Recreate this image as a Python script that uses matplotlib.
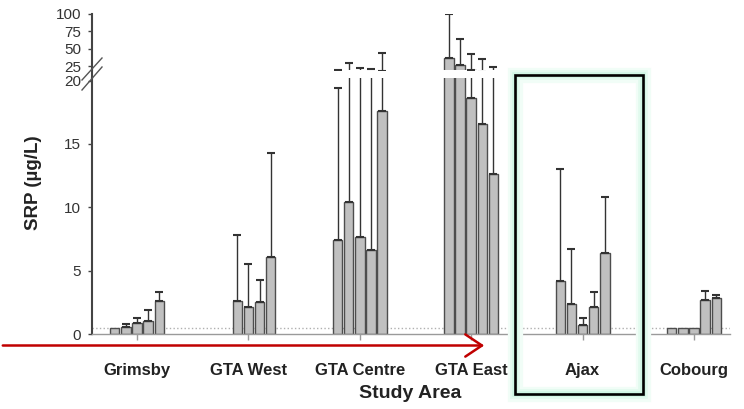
import numpy as np
import matplotlib
matplotlib.use('Agg')
import matplotlib.pyplot as plt
from matplotlib.patches import Rectangle, FancyArrowPatch
from matplotlib.lines import Line2D

plt.rcParams['font.family'] = ['Liberation Sans', 'DejaVu Sans']

# sites and the 5 sampling bars per site (mean SRP and upper error)
sites = ['Grimsby', 'GTA West', 'GTA Centre', 'GTA East', 'Ajax', 'Cobourg']

grimsby_mean = [0.50, 0.58, 0.85, 1.03, 2.63]
grimsby_err = [0, 0.21, 0.44, 0.87, 0.69]
gta_west_mean = [np.nan, 2.63, 2.16, 2.50, 6.11]
gta_west_err = [np.nan, 5.20, 3.34, 1.77, 8.17]
gta_centre_mean = [7.43, 10.38, 7.69, 6.64, 17.6]
gta_centre_err = [11.97, 18.5, 14.9, 14.1, 26.6]
gta_east_mean = [36.1, 26.5, 18.6, 16.6, 12.65]
gta_east_err = [63.9, 37.0, 23.7, 18.5, 11.35]
ajax_mean = [4.21, 2.34, 0.71, 2.11, 6.38]
ajax_err = [8.83, 4.35, 0.53, 1.24, 4.42]
cobourg_mean = [0.50, 0.50, 0.50, 2.69, 2.87]
cobourg_err = [0, 0, 0, 0.74, 0.21]

means = [grimsby_mean, gta_west_mean, gta_centre_mean, gta_east_mean, ajax_mean, cobourg_mean]
errs = [grimsby_err, gta_west_err, gta_centre_err, gta_east_err, ajax_err, cobourg_err]

detection_limit = 0.5

W, H = 744, 409
fig = plt.figure(figsize=(W / 100, H / 100), dpi=100)

ax = fig.add_axes([92 / W, 1 - 334 / H, 638 / W, 256 / H])
ax_top = fig.add_axes([92 / W, 1 - 69.5 / H, 638 / W, 55.85 / H])

offsets = (np.arange(5) - 2) * 0.1
for a in (ax, ax_top):
    for i, (m, e) in enumerate(zip(means, errs)):
        m = np.array(m, dtype=float)
        e = np.array(e, dtype=float)
        xs = i + offsets
        ok = ~np.isnan(m)
        a.bar(xs[ok], m[ok], width=0.085, color='#c0c0c0', edgecolor='#4d4d4d',
              linewidth=1, zorder=2)
        has_err = ok & (e > 0)
        a.errorbar(xs[has_err], m[has_err], yerr=[np.zeros(has_err.sum()), e[has_err]],
                   fmt='none', ecolor='#333333', elinewidth=1, capsize=3.2,
                   capthick=1.5, zorder=3)
    a.set_xlim(-0.404, 5.323)
    for s in ['top', 'right']:
        a.spines[s].set_visible(False)
    a.spines['left'].set_color('#444444')
    a.spines['left'].set_linewidth(1.5)
    a.tick_params(axis='y', direction='out', length=3, width=1, color='#444444',
                  labelsize=11, labelcolor='#333333', pad=5)

ax.set_ylim(0, 20.2)
ax.set_yticks([0, 5, 10, 15, 20])
ax.axhline(detection_limit, color='#b0b0b0', ls=':', lw=1, zorder=1)
ax.spines['bottom'].set_color('#9a9a9a')
ax.spines['bottom'].set_linewidth(1)
ax.set_xticks(range(len(sites)))
ax.set_xticklabels(sites, fontweight='bold', fontsize=12, color='#222222')
ax.tick_params(axis='x', direction='out', length=4, width=1, color='#9a9a9a', pad=17)

ax_top.set_ylim(20, 100.5)
ax_top.set_yticks([25, 50, 75, 100])
ax_top.spines['bottom'].set_visible(False)
ax_top.set_xticks([])

# continuous spine across the break and the break marks
fig.add_artist(Line2D([92 / W, 92 / W], [1 - 69.5 / H, 1 - 78 / H], color='#444444', lw=1.5))
for y0, y1 in [(80, 58), (90, 67)]:
    fig.add_artist(Line2D([82 / W, 102 / W], [1 - y0 / H, 1 - y1 / H], color='#555555', lw=1))

fig.text(33 / W, 1 - 183 / H, 'SRP (µg/L)', rotation=90, ha='center', va='center',
         fontsize=13.5, fontweight='bold', color='#222222')
fig.text(410 / W, 1 - 394 / H, 'Study Area', ha='center', va='center',
         fontsize=14, fontweight='bold', color='#222222')

# highlight box around Ajax with a soft mint glow
x0, y0, x1, y1 = 515 / W, 1 - 394 / H, 643 / W, 1 - 75 / H
for lw, col in [(11, '#f1fdf7'), (7, '#e2faee'), (4, '#cff6e4')]:
    fig.add_artist(Rectangle((x0, y0), x1 - x0, y1 - y0, fill=False, lw=lw,
                             edgecolor=col, transform=fig.transFigure))
fig.add_artist(Rectangle((x0, y0), x1 - x0, y1 - y0, fill=False, lw=1.9,
                         edgecolor='black', transform=fig.transFigure))

# red arrow
fig.add_artist(FancyArrowPatch((0, 1 - 345.5 / H), (487 / W, 1 - 345.5 / H),
                               transform=fig.transFigure,
                               arrowstyle='->,head_length=12,head_width=8',
                               color='#c00000', lw=1.8))

fig.savefig('out.png', dpi=100)
